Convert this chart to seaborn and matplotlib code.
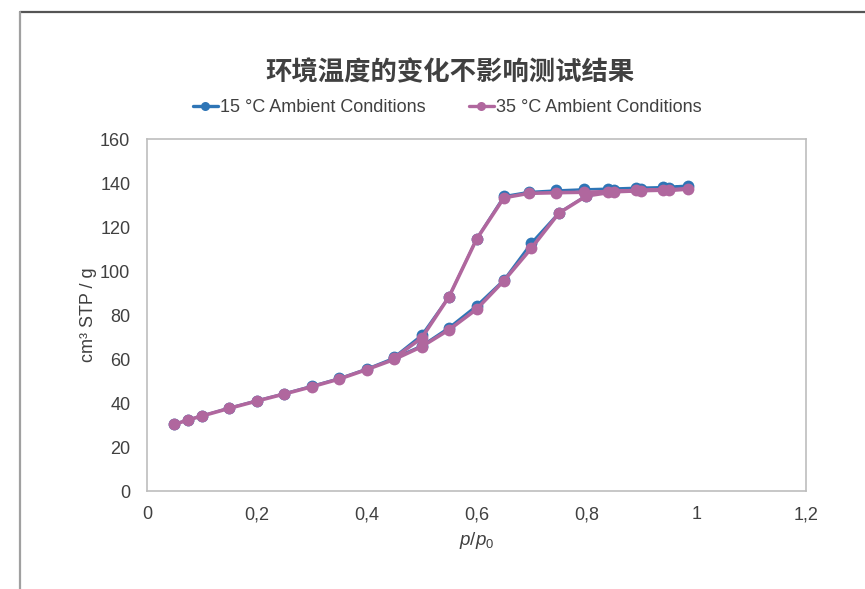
import seaborn as sns
import pandas as pd
import matplotlib.pyplot as plt
from matplotlib.lines import Line2D

# adsorption branch (rising) then desorption branch (coming back down)
ads_p = [0.05, 0.075, 0.1, 0.15, 0.2, 0.25, 0.3, 0.35, 0.4, 0.45, 0.5, 0.55, 0.6,
         0.65, 0.7, 0.75, 0.8, 0.85, 0.9, 0.95, 0.985]
des_p = [0.94, 0.89, 0.84, 0.795, 0.745, 0.695, 0.65, 0.6, 0.55, 0.5, 0.45]

ads_15 = [30.4, 32.4, 34.2, 37.8, 41.1, 44.3, 47.7, 51.2, 55.5, 60.5, 66.0, 74.3, 84.2,
          96.0, 112.8, 126.5, 134.3, 136.6, 137.3, 137.7, 138.8]
des_15 = [138.1, 137.8, 137.4, 137.1, 136.6, 135.9, 134.0, 114.6, 88.4, 70.8, 60.9]

ads_35 = [30.3, 32.3, 34.1, 37.6, 40.9, 44.1, 47.4, 50.9, 55.2, 59.8, 65.6, 73.3, 82.6,
          95.6, 110.4, 126.3, 134.1, 136.0, 136.5, 136.8, 137.2]
des_35 = [136.9, 136.6, 136.1, 135.8, 135.6, 135.3, 133.3, 114.4, 88.3, 69.5, 60.5]

series_names = ['15 °C Ambient Conditions', '35 °C Ambient Conditions']
series_colors = ['#2E75B6', '#B0679E']

x_ticks = [0, 0.2, 0.4, 0.6, 0.8, 1.0, 1.2]
x_tick_labels = ['0', '0,2', '0,4', '0,6', '0,8', '1', '1,2']
y_ticks = [0, 20, 40, 60, 80, 100, 120, 140, 160]

title = '环境温度的变化不影响测试结果'

df15 = pd.DataFrame({'p': ads_p + des_p, 'q': ads_15 + des_15})
df35 = pd.DataFrame({'p': ads_p + des_p, 'q': ads_35 + des_35})

sns.set_style('white')
plt.rcParams['font.family'] = ['Liberation Sans', 'DejaVu Sans']
plt.rcParams['mathtext.fontset'] = 'custom'
plt.rcParams['mathtext.it'] = 'Liberation Sans:italic'
plt.rcParams['mathtext.rm'] = 'Liberation Sans'

txt = '#404040'
fig = plt.figure(figsize=(8.65, 5.89), dpi=100)
ax = fig.add_axes([147 / 865, 98 / 589, 659 / 865, 352 / 589])

sns.lineplot(data=df15, x='p', y='q', color=series_colors[0], sort=False, estimator=None,
             marker='o', markersize=8.5, markeredgewidth=0, linewidth=1.8, ax=ax)
sns.lineplot(data=df35, x='p', y='q', color=series_colors[1], sort=False, estimator=None,
             marker='o', markersize=8.5, markeredgewidth=0, linewidth=2.6, ax=ax)

ax.set_xlim(0, 1.2)
ax.set_ylim(0, 160)
ax.set_xticks(x_ticks)
ax.set_xticklabels(x_tick_labels)
ax.set_yticks(y_ticks)
ax.tick_params(length=0, labelsize=13, labelcolor=txt)
ax.tick_params(axis='y', pad=12)
ax.tick_params(axis='x', pad=11)
for s in ax.spines.values():
    s.set_color('#BDBDBD')
    s.set_linewidth(1.2)

ax.set_xlabel(r'$p/p_{\mathit{0}}$', fontsize=13.5, color=txt, labelpad=5)
ax.set_ylabel('cm³ STP / g', fontsize=13, color=txt, labelpad=2)

fig.text(450 / 865, 1 - 73 / 589, title, ha='center', va='center', fontsize=19,
         fontweight='bold', color='#404040', family=['Noto Sans CJK SC', 'DejaVu Sans'])

handles = [Line2D([], [], color=c, marker='o', markersize=6.5, markeredgewidth=0, linewidth=2.4)
           for c in series_colors]
fig.legend(handles, series_names, loc='center', bbox_to_anchor=(447 / 865, 1 - 108 / 589),
           ncol=2, frameon=False, fontsize=13, handlelength=1.4, handletextpad=0.1,
           columnspacing=2.4, labelcolor=txt)

# outer chart frame (cropped on right and bottom)
fig.add_artist(Line2D([19.5 / 865, 1], [1 - 11.5 / 589, 1 - 11.5 / 589],
                      transform=fig.transFigure, color='#555555', linewidth=1.6))
fig.add_artist(Line2D([19.5 / 865, 19.5 / 865], [0, 1 - 11.5 / 589],
                      transform=fig.transFigure, color='#A0A0A0', linewidth=1.6))

fig.savefig('out.png', dpi=100)
